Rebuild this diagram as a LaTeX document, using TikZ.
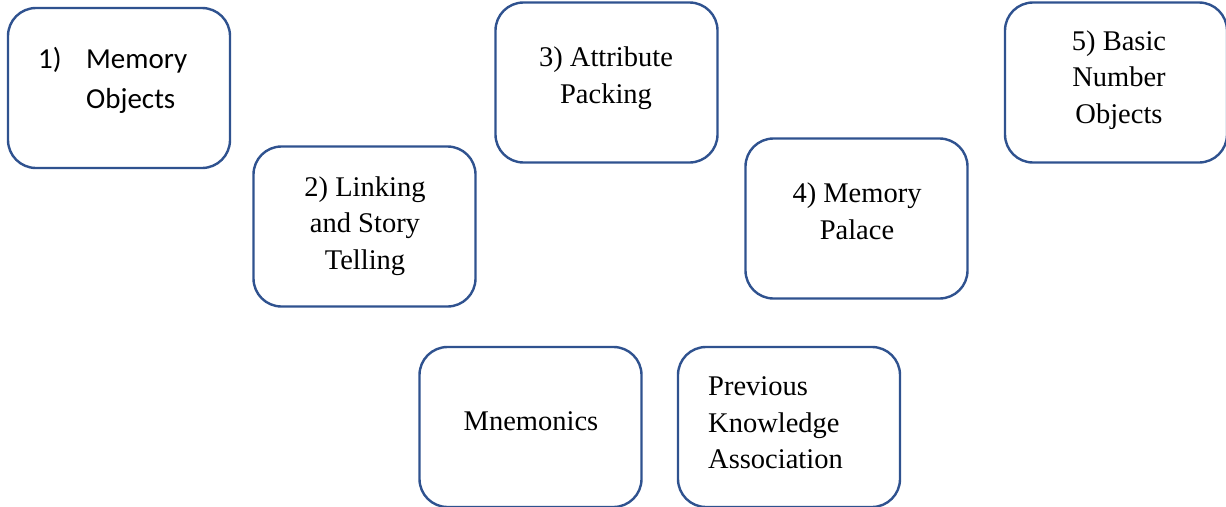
\documentclass[tikz,border=0pt]{standalone}
\usepackage{fontspec}
\setmainfont{Liberation Serif}
\newfontfamily\calfont{Carlito}
\definecolor{boxblue}{RGB}{47,82,143}
\begin{document}
\begin{tikzpicture}[x=1pt,y=-1pt,
  card/.style={draw=boxblue,line width=2.4pt,rounded corners=28pt,fill=white,
    minimum width=222pt,minimum height=160pt,inner sep=0pt},
  lbl/.style={font=\fontsize{28.5}{36.5}\selectfont,align=center,inner sep=0pt},
  lbll/.style={font=\fontsize{28.5}{36.5}\selectfont,align=left,inner sep=0pt},
  cal/.style={font=\calfont\fontsize{29}{40}\selectfont,inner sep=0pt,anchor=base west}]
\useasboundingbox (0,0) rectangle (1226,506);
\node[card] (b1) at (119,88) {};
\node[card] (b2) at (364.5,226.5) {};
\node[card] (b3) at (606.5,82.5) {};
\node[card] (b4) at (856.5,218.5) {};
\node[card] (b5) at (1116,82.5) {};
\node[card] (b6) at (530.5,427) {};
\node[card] (b7) at (789,427) {};
\node[cal] (t1a) at (38,68) {1)};
\node[cal] (t1b) at (86,68) {Memory};
\node[cal] (t1c) at (86,108) {Objects};
\node[lbl] (t2) at (365,226) {2) Linking\\and Story\\Telling};
\node[lbl] (t3) at (606,78) {3) Attribute\\Packing};
\node[lbl] (t4) at (857,211) {4) Memory\\Palace};
\node[lbl] (t5) at (1119,80) {5) Basic\\Number\\Objects};
\node[lbl] (t6) at (531,421) {Mnemonics};
\node[lbll,anchor=west] (t7) at (708,423) {Previous\\Knowledge\\Association};
\end{tikzpicture}
\end{document}
